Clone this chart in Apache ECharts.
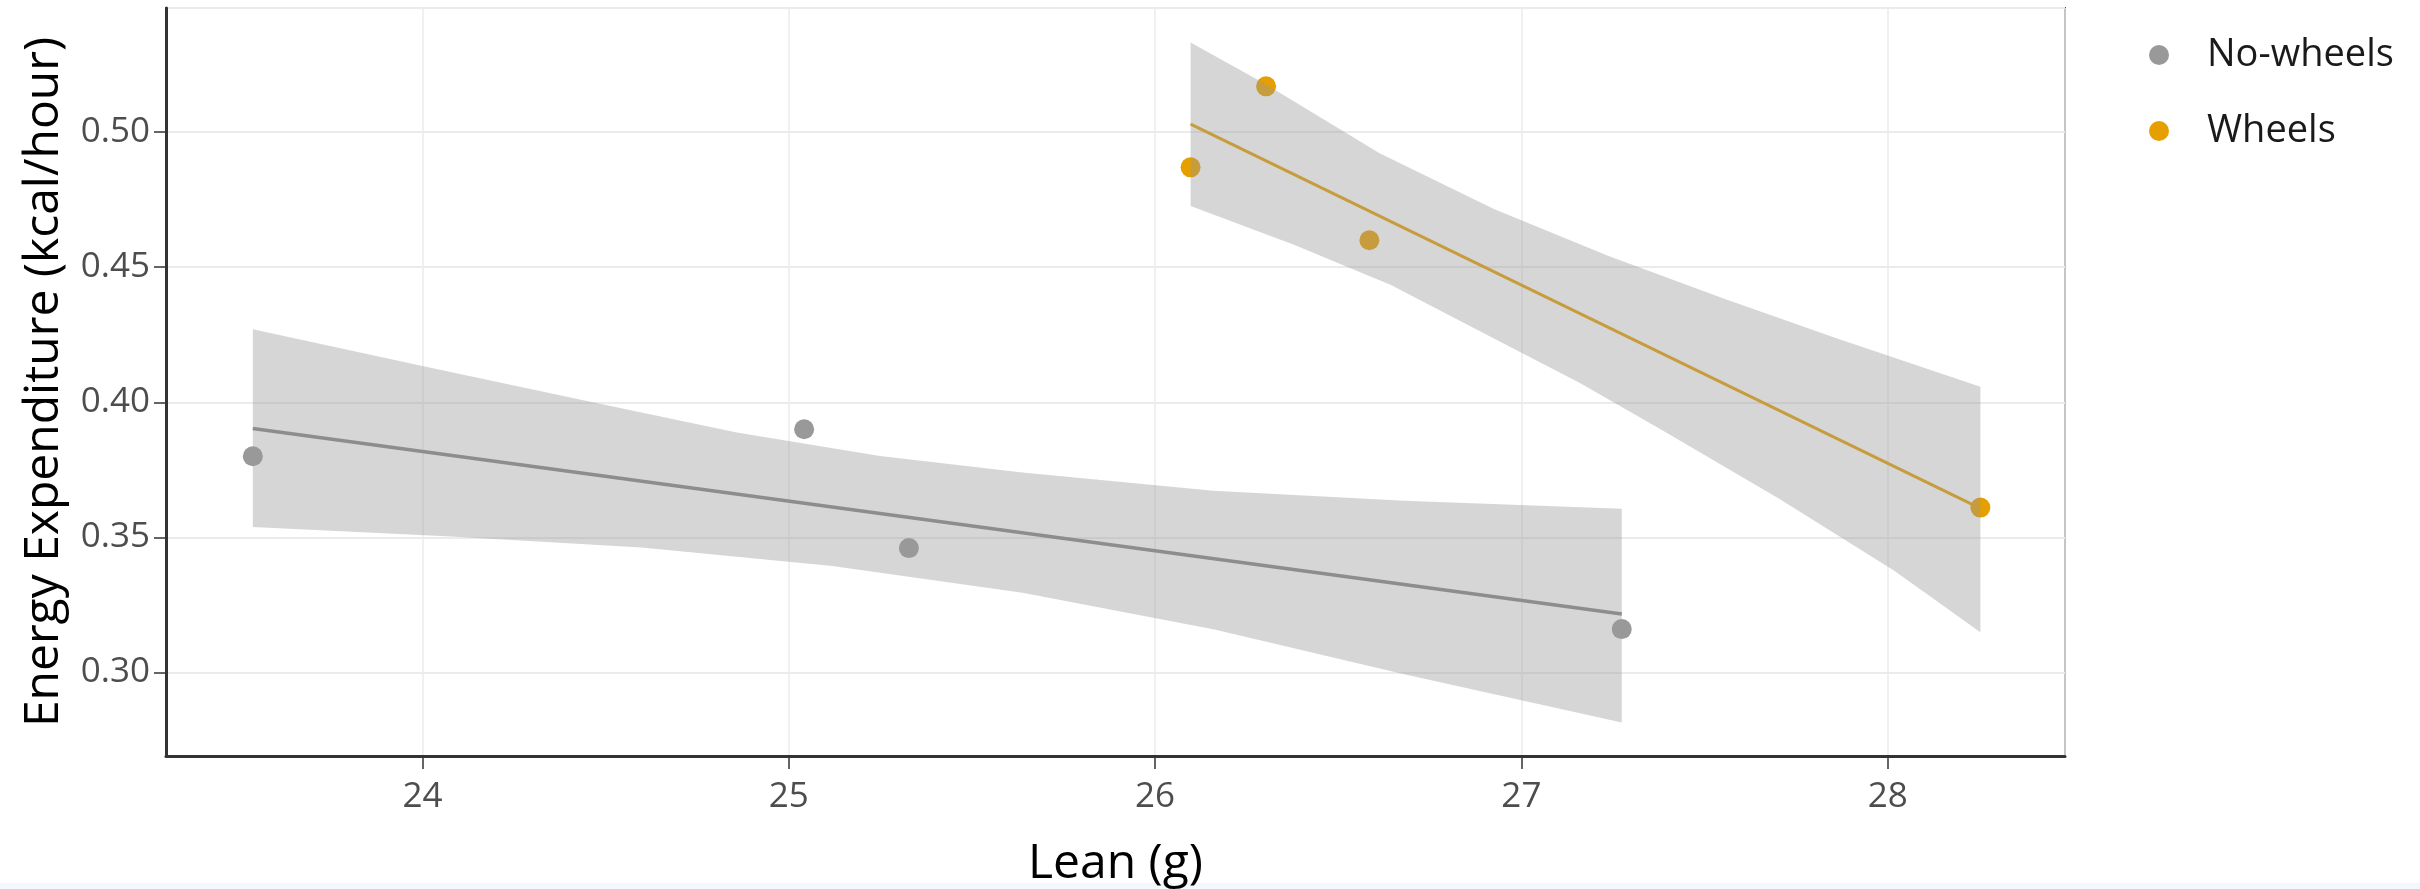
<!DOCTYPE html>
<html>
<head>
<meta charset="utf-8">
<script src="https://cdn.jsdelivr.net/npm/echarts@6/dist/echarts.min.js"></script>
<style>
html,body{margin:0;padding:0;background:#fff;}
#chart{width:2420px;height:889px;}
</style>
</head>
<body>
<div id="chart"></div>
<script>
// ---- data ----
const seriesNames = ['No-wheels', 'Wheels'];
const noWheelsPoints = [[23.537, 0.380], [25.042, 0.390], [25.328, 0.346], [27.274, 0.316]];
const wheelsPoints = [[26.097, 0.487], [26.303, 0.517], [26.585, 0.460], [28.253, 0.361]];
const noWheelsFit = [[23.537, 0.3903], [27.274, 0.3216]];
const wheelsFit = [[26.097, 0.5030], [28.253, 0.3607]];
const noWheelsBandUpper = [[23.537, 0.427], [24.0, 0.4134], [24.468, 0.3999], [24.858, 0.3888], [25.249, 0.3801], [25.638, 0.374], [26.159, 0.3672], [26.68, 0.3635], [27.274, 0.3606]];
const noWheelsBandLower = [[23.537, 0.3538], [24.078, 0.3503], [24.598, 0.3462], [25.119, 0.3394], [25.638, 0.3295], [26.159, 0.3159], [26.68, 0.2993], [27.274, 0.2814]];
const wheelsBandUpper = [[26.097, 0.5332], [26.301, 0.5179], [26.613, 0.4922], [26.925, 0.4716], [27.238, 0.4542], [27.55, 0.4385], [27.862, 0.4236], [28.253, 0.4057]];
const wheelsBandLower = [[26.097, 0.4727], [26.379, 0.4583], [26.644, 0.4434], [26.925, 0.4236], [27.16, 0.4071], [27.394, 0.3889], [27.706, 0.3641], [28.018, 0.3376], [28.253, 0.3148]];
const xTitle = 'Lean (g)';
const yTitle = 'Energy Expenditure (kcal/hour)';

const colors = { 'No-wheels': '#999999', 'Wheels': '#E69F00' };
const FONT = '"Open Sans", "Noto Sans", sans-serif';

function bandSeries(upper, lower) {
  return {
    type: 'custom',
    silent: true,
    z: 5,
    data: [0],
    renderItem: function (params, api) {
      const pts = [];
      upper.forEach(p => pts.push(api.coord(p)));
      lower.slice().reverse().forEach(p => pts.push(api.coord(p)));
      return {
        type: 'polygon',
        shape: { points: pts, smooth: 0 },
        style: { fill: 'rgba(153,153,153,0.4)', stroke: null }
      };
    }
  };
}

const chart = echarts.init(document.getElementById('chart'), null, { renderer: 'canvas' });
chart.setOption({
  backgroundColor: '#ffffff',
  animation: false,
  textStyle: { fontFamily: FONT },
  grid: { left: 166, right: 355, top: 8, bottom: 133, show: true, borderColor: '#555555', borderWidth: 2, containLabel: false, outerBoundsMode: 'none' },
  graphic: [{ type: 'rect', left: 0, bottom: 0, shape: { width: 2420, height: 6 }, style: { fill: '#f3f8fc' }, silent: true }],
  legend: {
    data: seriesNames.map(n => ({ name: n, icon: 'circle' })),
    orient: 'vertical',
    left: 2144,
    top: 29,
    itemWidth: 20,
    itemHeight: 20,
    itemGap: 34,
    textStyle: { fontSize: 38, color: '#1a1a1a', fontFamily: FONT, padding: [0, 0, 0, 33], lineHeight: 42 }
  },
  xAxis: {
    type: 'value',
    min: 23.30,
    max: 28.484,
    minInterval: 1,
    maxInterval: 1,
    name: xTitle,
    nameLocation: 'middle',
    nameGap: 84,
    nameTextStyle: { fontSize: 48, color: '#000000', fontFamily: FONT },
    axisLine: { show: true, lineStyle: { color: '#333333', width: 3 } },
    axisTick: { show: true, length: 13, lineStyle: { color: '#333333', width: 1.5 } },
    axisLabel: {
      fontSize: 35, color: '#4d4d4d', margin: 24, fontFamily: FONT,
      showMinLabel: false, showMaxLabel: false,
      formatter: v => (Math.abs(v - Math.round(v)) < 1e-6 ? String(Math.round(v)) : '')
    },
    splitLine: { show: true, lineStyle: { color: '#ebebeb', width: 1.5 } }
  },
  yAxis: {
    type: 'value',
    min: 0.269,
    max: 0.546,
    minInterval: 0.05,
    maxInterval: 0.05,
    name: yTitle,
    nameLocation: 'middle',
    nameGap: 98,
    nameTextStyle: { fontSize: 48, color: '#000000', fontFamily: FONT },
    axisLine: { show: true, lineStyle: { color: '#333333', width: 3 } },
    axisTick: { show: true, length: 12, lineStyle: { color: '#333333', width: 1.5 } },
    axisLabel: {
      fontSize: 35, color: '#4d4d4d', margin: 16, fontFamily: FONT,
      showMinLabel: false, showMaxLabel: false,
      formatter: v => {
        const r = Math.round(v * 20) / 20;
        return Math.abs(v - r) < 1e-6 ? r.toFixed(2) : '';
      }
    },
    splitLine: { show: true, lineStyle: { color: '#ebebeb', width: 2 } }
  },
  series: [
    {
      name: 'No-wheels', type: 'scatter', data: noWheelsPoints, symbol: 'circle', symbolSize: 20,
      itemStyle: { color: colors['No-wheels'], opacity: 1 }, z: 3
    },
    {
      name: 'Wheels', type: 'scatter', data: wheelsPoints, symbol: 'circle', symbolSize: 20,
      itemStyle: { color: colors['Wheels'], opacity: 1 }, z: 3
    },
    {
      name: 'No-wheels fit', type: 'line', data: noWheelsFit, showSymbol: false, symbol: 'none',
      lineStyle: { color: '#858585', width: 3.5 }, z: 2, silent: true
    },
    {
      name: 'Wheels fit', type: 'line', data: wheelsFit, showSymbol: false, symbol: 'none',
      lineStyle: { color: '#E69F00', width: 3 }, z: 2, silent: true
    },
    bandSeries(noWheelsBandUpper, noWheelsBandLower),
    bandSeries(wheelsBandUpper, wheelsBandLower)
  ]
});
</script>
</body>
</html>
